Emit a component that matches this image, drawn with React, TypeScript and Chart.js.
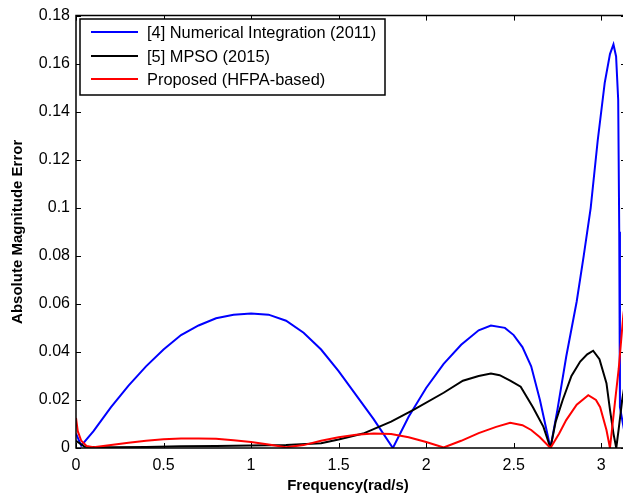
import { useEffect, useRef } from 'react';
import { Chart, registerables } from 'chart.js';
Chart.register(...registerables);

const seriesLabels = ['[4] Numerical Integration (2011)', '[5] MPSO (2015)', 'Proposed (HFPA-based)'];
const seriesColors = ['#0000ff', '#000000', '#ff0000'];

const xTicks = [0, 0.5, 1, 1.5, 2, 2.5, 3];
const yTicks = [0, 0.02, 0.04, 0.06, 0.08, 0.1, 0.12, 0.14, 0.16, 0.18];

const freqNI = [0, 0.03, 0.1, 0.2, 0.3, 0.4, 0.5, 0.6, 0.7, 0.8, 0.9, 1.0, 1.1, 1.2, 1.3, 1.4, 1.5, 1.6, 1.7, 1.81, 1.9, 2.0, 2.1, 2.2, 2.3, 2.37, 2.45, 2.5, 2.55, 2.6, 2.65, 2.71, 2.75, 2.8, 2.86, 2.9, 2.94, 2.98, 3.02, 3.05, 3.07, 3.085, 3.097, 3.103, 3.107, 3.1416];
const errNI = [0.006, 0.001, 0.007, 0.017, 0.026, 0.034, 0.041, 0.047, 0.051, 0.054, 0.0555, 0.056, 0.0555, 0.053, 0.048, 0.041, 0.032, 0.022, 0.012, 0, 0.013, 0.025, 0.035, 0.043, 0.049, 0.051, 0.05, 0.047, 0.042, 0.034, 0.02, 0, 0.016, 0.038, 0.061, 0.08, 0.1, 0.128, 0.152, 0.164, 0.168, 0.163, 0.145, 0.09, 0.017, 0.003];

const freqMPSO = [0, 0.05, 0.2, 0.4, 0.6, 0.8, 1.0, 1.2, 1.4, 1.5, 1.64, 1.8, 1.93, 2.1, 2.21, 2.3, 2.37, 2.42, 2.48, 2.54, 2.61, 2.67, 2.71, 2.74, 2.78, 2.83, 2.88, 2.92, 2.954, 2.99, 3.03, 3.05, 3.07, 3.086, 3.1, 3.12, 3.1416];
const errMPSO = [0.003, 0.0005, 0.0003, 0.0004, 0.0007, 0.0008, 0.001, 0.0012, 0.002, 0.0035, 0.006, 0.011, 0.016, 0.023, 0.028, 0.03, 0.031, 0.0303, 0.028, 0.0255, 0.017, 0.0088, 0, 0.011, 0.02, 0.03, 0.036, 0.039, 0.0405, 0.037, 0.027, 0.016, 0.006, 0, 0.008, 0.02, 0.03];

const freqHFPA = [0, 0.01, 0.03, 0.06, 0.1, 0.2, 0.3, 0.4, 0.5, 0.6, 0.7, 0.8, 0.9, 1.0, 1.1, 1.2, 1.3, 1.4, 1.5, 1.6, 1.7, 1.8, 1.9, 2.0, 2.1, 2.2, 2.3, 2.4, 2.48, 2.55, 2.6, 2.65, 2.71, 2.76, 2.8, 2.86, 2.926, 2.97, 2.994, 3.03, 3.05, 3.065, 3.08, 3.1, 3.126, 3.1416];
const errHFPA = [0.0125, 0.007, 0.003, 0.0008, 0.0003, 0.0012, 0.0022, 0.003, 0.0036, 0.004, 0.004, 0.0038, 0.0032, 0.0025, 0.0015, 0.0003, 0.0012, 0.003, 0.0045, 0.0055, 0.006, 0.0058, 0.0045, 0.0025, 0.0002, 0.003, 0.0062, 0.0088, 0.0105, 0.0095, 0.0075, 0.0045, 0, 0.006, 0.0116, 0.018, 0.022, 0.02, 0.017, 0.0075, 0, 0.01, 0.02, 0.033, 0.055, 0.064];

const FONT = '"Liberation Sans", Arial, sans-serif';

const toPoints = (xs: number[], ys: number[]) => xs.map((x, i) => ({ x, y: ys[i] }));

const boxPlugin = {
  id: 'matlabBox',
  afterDraw(chart: any) {
    const { ctx, chartArea } = chart;
    const { left, top, right, bottom } = chartArea;
    const xs = chart.scales.x;
    const ys = chart.scales.y;
    ctx.save();
    ctx.strokeStyle = '#000';
    ctx.lineWidth = 1.5;
    ctx.beginPath();
    ctx.rect(left, top, right - left, bottom - top);
    ctx.stroke();
    ctx.lineWidth = 1;
    ctx.beginPath();
    for (const v of xTicks) {
      const px = Math.round(xs.getPixelForValue(v)) + 0.5;
      ctx.moveTo(px, bottom);
      ctx.lineTo(px, bottom - 5);
      ctx.moveTo(px, top);
      ctx.lineTo(px, top + 5);
    }
    for (const v of yTicks) {
      const py = Math.round(ys.getPixelForValue(v)) + 0.5;
      ctx.moveTo(left, py);
      ctx.lineTo(left + 5, py);
      ctx.moveTo(right, py);
      ctx.lineTo(right - 5, py);
    }
    ctx.stroke();

    // legend
    const lx = 80, ly = 19, lw = 305, lh = 76;
    ctx.fillStyle = '#fff';
    ctx.fillRect(lx, ly, lw, lh);
    ctx.lineWidth = 1.5;
    ctx.strokeStyle = '#000';
    ctx.strokeRect(lx, ly, lw, lh);
    const rowY = [32, 56, 79];
    ctx.font = `16.4px ${FONT}`;
    ctx.textBaseline = 'middle';
    ctx.textAlign = 'left';
    seriesLabels.forEach((lab, i) => {
      ctx.strokeStyle = seriesColors[i];
      ctx.lineWidth = 2;
      ctx.beginPath();
      ctx.moveTo(91, rowY[i]);
      ctx.lineTo(138, rowY[i]);
      ctx.stroke();
      ctx.fillStyle = '#000';
      ctx.fillText(lab, 147, rowY[i] + 1);
    });

    // axis titles
    ctx.fillStyle = '#000';
    ctx.font = `bold 15px ${FONT}`;
    ctx.textAlign = 'center';
    ctx.textBaseline = 'middle';
    ctx.fillText('Frequency(rad/s)', (left + right) / 2 - 3, 486);
    ctx.translate(18, (top + bottom) / 2);
    ctx.rotate(-Math.PI / 2);
    ctx.fillText('Absolute Magnitude Error', 0, 0);
    ctx.restore();
  },
};

export default function App() {
  const ref = useRef<HTMLCanvasElement>(null);
  useEffect(() => {
    if (!ref.current) return;
    const mk = (i: number, xs: number[], ys: number[], order: number) => ({
      label: seriesLabels[i],
      data: toPoints(xs, ys),
      borderColor: seriesColors[i],
      backgroundColor: seriesColors[i],
      borderWidth: 2,
      pointRadius: 0,
      tension: 0,
      fill: false,
      order,
    });
    const chart = new Chart(ref.current, {
      type: 'line',
      data: {
        datasets: [
          mk(0, freqNI, errNI, 2),
          mk(1, freqMPSO, errMPSO, 1),
          mk(2, freqHFPA, errHFPA, 0),
        ],
      },
      options: {
        responsive: false,
        animation: false,
        layout: { padding: { left: 0, top: 15, right: 14, bottom: 0 } },
        plugins: { legend: { display: false }, tooltip: { enabled: false } },
        scales: {
          x: {
            type: 'linear',
            min: 0,
            max: Math.PI,
            grid: { display: false, drawTicks: false },
            border: { display: false },
            afterBuildTicks: (s: any) => { s.ticks = xTicks.map((v) => ({ value: v })); },
            afterFit: (s: any) => { s.height = 52; },
            ticks: {
              padding: 8,
              color: '#000',
              font: { family: FONT, size: 16 },
              maxRotation: 0,
              autoSkip: false,
              callback: (v: any) => String(Number(Number(v).toFixed(2))),
            },
          },
          y: {
            type: 'linear',
            min: 0,
            max: 0.18,
            grid: { display: false, drawTicks: false },
            border: { display: false },
            afterBuildTicks: (s: any) => { s.ticks = yTicks.map((v) => ({ value: v })); },
            afterFit: (s: any) => { s.width = 76; },
            ticks: {
              padding: 6,
              color: '#000',
              font: { family: FONT, size: 16 },
              autoSkip: false,
              callback: (v: any) => String(Number(Number(v).toFixed(2))),
            },
          },
        },
      },
      plugins: [boxPlugin],
    } as any);
    return () => chart.destroy();
  }, []);
  return (
    <div style={{ position: 'fixed', left: 0, top: 0, width: 623, height: 500, overflow: 'hidden', background: '#fff' }}>
      <canvas ref={ref} width={640} height={500} style={{ display: 'block' }} />
    </div>
  );
}
